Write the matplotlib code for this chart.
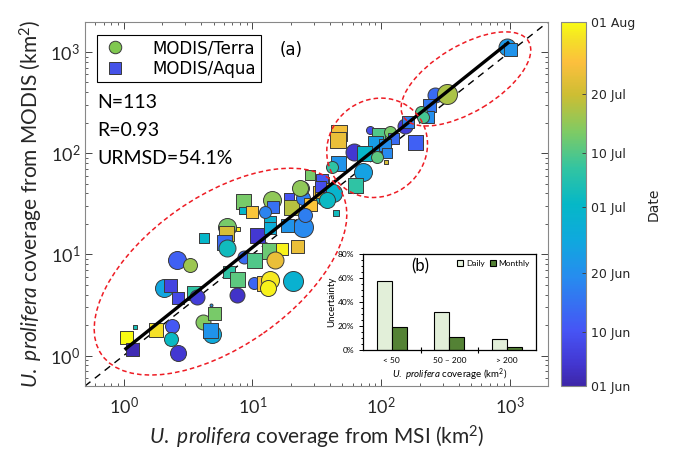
import matplotlib
matplotlib.use('Agg')
import matplotlib.pyplot as plt
import matplotlib.transforms as mtrans
from matplotlib.patches import Ellipse
from matplotlib.colors import LinearSegmentedColormap, Normalize
from matplotlib.cm import ScalarMappable
from matplotlib.lines import Line2D
from matplotlib.ticker import PercentFormatter, MultipleLocator, FixedLocator, NullFormatter
import numpy as np
import pandas as pd

plt.rcParams['font.family'] = ['Lato', 'DejaVu Sans']
plt.rcParams['mathtext.fontset'] = 'custom'
plt.rcParams['mathtext.rm'] = 'Lato'
plt.rcParams['mathtext.it'] = 'Lato:italic'
plt.rcParams['mathtext.bf'] = 'Lato:bold'

# coverage (km2) from MSI and from MODIS
msi_km2 = [1.04, 1.15, 1.22, 1.77, 2.36, 2.31, 2.62, 2.58, 3.25, 2.04,
           2.27, 2.62, 3.49, 3.68, 4.10, 4.99, 4.81, 4.64, 4.73, 4.17,
           6.40, 6.18, 5.96, 6.40, 7.79, 10.9, 8.67, 10.2, 6.52, 7.65,
           7.65, 10.2, 12.2, 13.8, 13.1, 20.8, 13.8, 17.1, 15.1, 22.3,
           24.9, 18.7, 13.8, 13.8, 8.51, 10.0, 8.36, 14.3, 14.5, 12.6,
           19.4, 20.1, 24.9, 28.2, 24.4, 34.9, 33.7, 35.5, 44.8,
           948, 1000, 262, 325, 236, 231, 204, 212, 153, 162,
           184, 82, 95, 117, 124, 47.2, 46.4, 89.8, 107, 61.8,
           73.8, 111, 93.1, 109, 46.4, 41.7, 72.5, 62.9, 28.2, 34.9,
           23.6, 34.9, 42.5, 38.1, 25.7, 33.7]
modis_km2 = [1.54, 1.15, 1.93, 1.77, 1.98, 1.47, 1.07, 8.87, 7.91, 4.69,
             5.02, 3.74, 4.19, 3.82, 2.17, 2.66, 1.65, 1.77, 3.19, 14.6,
             18.8, 16.4, 13.3, 11.6, 17.9, 15.6, 9.49, 8.87, 6.75, 5.75,
             4.00, 5.26, 5.26, 5.62, 4.69, 5.50, 10.9, 11.4, 8.87, 12.2,
             18.8, 19.6, 21.0, 18.4, 33.9, 26.4, 27.6, 34.7, 29.6, 26.4,
             36.3, 29.6, 36.3, 31.6, 45.5, 51.0, 40.6, 36.3, 25.8,
             1122, 1074, 377, 386, 300, 229, 256, 229, 186, 204,
             130, 170, 156, 163, 142, 159, 136, 127, 121, 103,
             101, 101, 92.1, 82.2, 80.4, 73.4, 65.5, 48.8, 61.2, 54.6,
             45.5, 43.5, 40.6, 34.7, 24.7, 47.6]
# T = MODIS/Terra, A = MODIS/Aqua
sensor = ('AAAATTTTTT' 'AAATTATATA' 'TAATAATAAA' 'TTATTTAATA' 'TAAAAAATAT' 'AATATAATA'
          'TATTAATTTA' 'ATATAAAAAT' 'AATAATTAAA' 'TATTTA')
# days after 01 Jun
day = [61, 1, 33, 58, 10, 31, 4, 11, 45, 24,
       6, 7, 36, 5, 43, 42, 25, 20, 20, 30,
       42, 50, 13, 32, 59, 4, 13, 39, 36, 40,
       3, 12, 55, 59, 60, 28, 41, 60, 52, 52,
       18, 20, 28, 26, 42, 55, 30, 44, 14, 17,
       9, 47, 16, 55, 42, 13, 52, 32, 32,
       21, 20, 13, 46, 15, 19, 39, 38, 5, 16,
       11, 8, 39, 42, 13, 53, 52, 22, 19, 4,
       30, 18, 40, 50, 20, 36, 23, 36, 42, 10,
       44, 52, 29, 31, 16, 8]
# marker diameter (px)
diam = [13, 13, 4, 14, 14, 14, 16, 18, 14, 18,
        13, 12, 14, 15, 15, 13, 18, 15, 3, 10,
        18, 15, 15, 17, 5, 15, 13, 15, 12, 15,
        15, 12, 15, 18, 16, 20, 16, 12, 17, 13,
        20, 13, 12, 12, 15, 12, 7, 18, 12, 12,
        10, 15, 14, 13, 14, 13, 14, 14, 6,
        17, 13, 15, 20, 13, 12, 12, 12, 15, 12,
        15, 8, 13, 12, 11, 16, 16, 15, 12, 17,
        15, 10, 12, 5, 15, 12, 18, 15, 10, 12,
        16, 15, 18, 16, 14, 11]

# regression (log-log) and its x range
fit_slope = 1.018
fit_icpt = 0.0507
fit_range = [1.04, 965]

stats = ['N=113', 'R=0.93', 'URMSD=54.1%']

# inset: uncertainty by coverage class
classes = ['< 50', '50 \u2013 200', '> 200']
daily = [0.575, 0.319, 0.089]
monthly = [0.189, 0.106, 0.028]

date0 = pd.Timestamp('2019-06-01')
cbar_days = [0, 9, 19, 30, 39, 49, 61]

parula = LinearSegmentedColormap.from_list('parula', [
    (0.00, (0.242, 0.150, 0.660)),
    (0.06, (0.262, 0.215, 0.820)),
    (0.15, (0.275, 0.330, 0.960)),
    (0.30, (0.150, 0.550, 0.935)),
    (0.40, (0.060, 0.660, 0.870)),
    (0.50, (0.020, 0.720, 0.780)),
    (0.60, (0.200, 0.770, 0.630)),
    (0.70, (0.500, 0.795, 0.390)),
    (0.80, (0.800, 0.745, 0.200)),
    (0.89, (0.990, 0.750, 0.240)),
    (0.95, (0.960, 0.870, 0.160)),
    (1.00, (0.977, 0.984, 0.080)),
])
norm = Normalize(0, 61)

fig = plt.figure(figsize=(6.81, 4.58), dpi=100)
ax = fig.add_axes([0.1248, 0.1572, 0.6799, 0.7948])
cax = fig.add_axes([0.8238, 0.1572, 0.0367, 0.7948])
axb = fig.add_axes([0.5330, 0.2358, 0.2540, 0.2096])

ax.set_xscale('log')
ax.set_yscale('log')
lim = (0.5, 1980)
ax.set_xlim(lim)
ax.set_ylim(lim)

ax.plot(lim, lim, color='black', lw=1.0, ls=(0, (5, 4)), zorder=1)

for x, y, s, d, m in zip(msi_km2, modis_km2, sensor, day, diam):
    ax.scatter(x, y, s=(0.72 * m) ** 2, c=[d], cmap=parula, norm=norm,
               marker='o' if s == 'T' else 's', edgecolors='#3a3a3a',
               linewidths=0.7, zorder=2)

xf = np.array(fit_range)
ax.plot(xf, 10 ** (fit_icpt + fit_slope * np.log10(xf)), color='black', lw=2.4, zorder=3)


def add_ellipse(xc, yc, w_px, h_px, ang):
    trans = fig.dpi_scale_trans + mtrans.ScaledTranslation(xc, yc, ax.transData)
    e = Ellipse((0, 0), w_px / 100, h_px / 100, angle=ang, transform=trans,
                fill=False, ec='#ee1c24', lw=1.1, ls=(0, (3, 2)), zorder=4)
    ax.add_patch(e)


add_ellipse(5.65, 6.75, 290, 150, 35)
add_ellipse(93.1, 113, 104, 96, 40)
add_ellipse(456, 542, 146, 66, 31)

ax.tick_params(which='both', direction='in', top=True, right=True,
               color='#444444', labelcolor='#262626', labelsize=13)
ax.tick_params(which='major', length=5, width=0.7)
ax.tick_params(which='minor', length=2.5, width=0.6)
ax.tick_params(axis='x', pad=7)
for sp in ax.spines.values():
    sp.set_color('#888888')
    sp.set_linewidth(0.8)

ax.set_xlabel(r'$\it{U.\ prolifera}$ coverage from MSI (km$^2$)', fontsize=15,
              color='#262626', labelpad=5)
ax.set_ylabel(r'$\it{U.\ prolifera}$ coverage from MODIS (km$^2$)', fontsize=15,
              color='#262626', labelpad=4)

for i, t in enumerate(stats):
    ax.text(0.026, 0.780 - i * 0.078, t, transform=ax.transAxes, fontsize=14,
            va='center', ha='left', color='black', zorder=5)
ax.text(0.421, 0.923, '(a)', transform=ax.transAxes, fontsize=12,
        va='center', ha='left', family='DejaVu Sans')

handles = [Line2D([], [], ls='none', marker='o', ms=9, mfc='#80c850', mec='#3a3a3a', mew=0.7),
           Line2D([], [], ls='none', marker='s', ms=8, mfc='#4552e8', mec='#3a3a3a', mew=0.7)]
leg = ax.legend(handles, ['MODIS/Terra', 'MODIS/Aqua'], loc='upper left',
                bbox_to_anchor=(0.026, 0.964), borderaxespad=0, fancybox=False,
                framealpha=1, edgecolor='black', prop={'family': 'DejaVu Sans', 'size': 12},
                handletextpad=1.5, borderpad=0.25, labelspacing=0.15, handlelength=1.6)
leg.get_frame().set_linewidth(0.8)

# colorbar
cb = fig.colorbar(ScalarMappable(norm=norm, cmap=parula), cax=cax)
cb.set_ticks(cbar_days)
cb.set_ticklabels([(date0 + pd.Timedelta(days=d)).strftime('%d %b') for d in cbar_days],
                  fontfamily='DejaVu Sans', fontsize=9)
cb.ax.tick_params(direction='in', length=3, width=0.7, color='#444444', labelcolor='#262626')
cb.outline.set_edgecolor('#888888')
cb.outline.set_linewidth(0.8)
cb.set_label('Date', fontfamily='DejaVu Sans', fontsize=10, color='#262626', labelpad=8)

# inset (b)
pos = np.arange(len(classes))
w = 0.26
axb.bar(pos - w / 2, daily, w, color='#e2efd9', edgecolor='black', lw=0.8, label='Daily')
axb.bar(pos + w / 2, monthly, w, color='#548235', edgecolor='black', lw=0.8, label='Monthly')
axb.set_xlim(-0.5, 2.5)
axb.set_ylim(0, 0.8)
axb.yaxis.set_major_locator(MultipleLocator(0.2))
axb.yaxis.set_minor_locator(MultipleLocator(0.05))
axb.yaxis.set_major_formatter(PercentFormatter(1.0, decimals=0))
axb.xaxis.set_major_locator(FixedLocator([0.5, 1.5]))
axb.xaxis.set_major_formatter(NullFormatter())
axb.xaxis.set_minor_locator(FixedLocator(pos))
axb.set_xticklabels(classes, minor=True)
axb.tick_params(axis='x', which='major', direction='inout', length=5, width=0.8)
axb.tick_params(axis='x', which='minor', length=0, labelsize=6, pad=5)
axb.tick_params(axis='y', which='both', direction='out', labelsize=6, width=0.7)
axb.tick_params(axis='y', which='major', length=3)
axb.tick_params(axis='y', which='minor', length=1.5)
axb.set_ylabel('Uncertainty', fontsize=7, labelpad=1)
axb.set_xlabel(r'$\it{U.\ prolifera}$ coverage (km$^2$)', fontsize=7, labelpad=2)
axb.text(0.33, 0.87, '(b)', transform=axb.transAxes, fontsize=12, va='center', ha='center')
lb = axb.legend(loc='upper right', fontsize=6, frameon=False, handlelength=0.8,
                handleheight=0.8, handletextpad=0.3, columnspacing=0.6, ncol=2,
                borderaxespad=0.3)
for sp in axb.spines.values():
    sp.set_linewidth(0.9)

fig.savefig('out.png', dpi=100)
